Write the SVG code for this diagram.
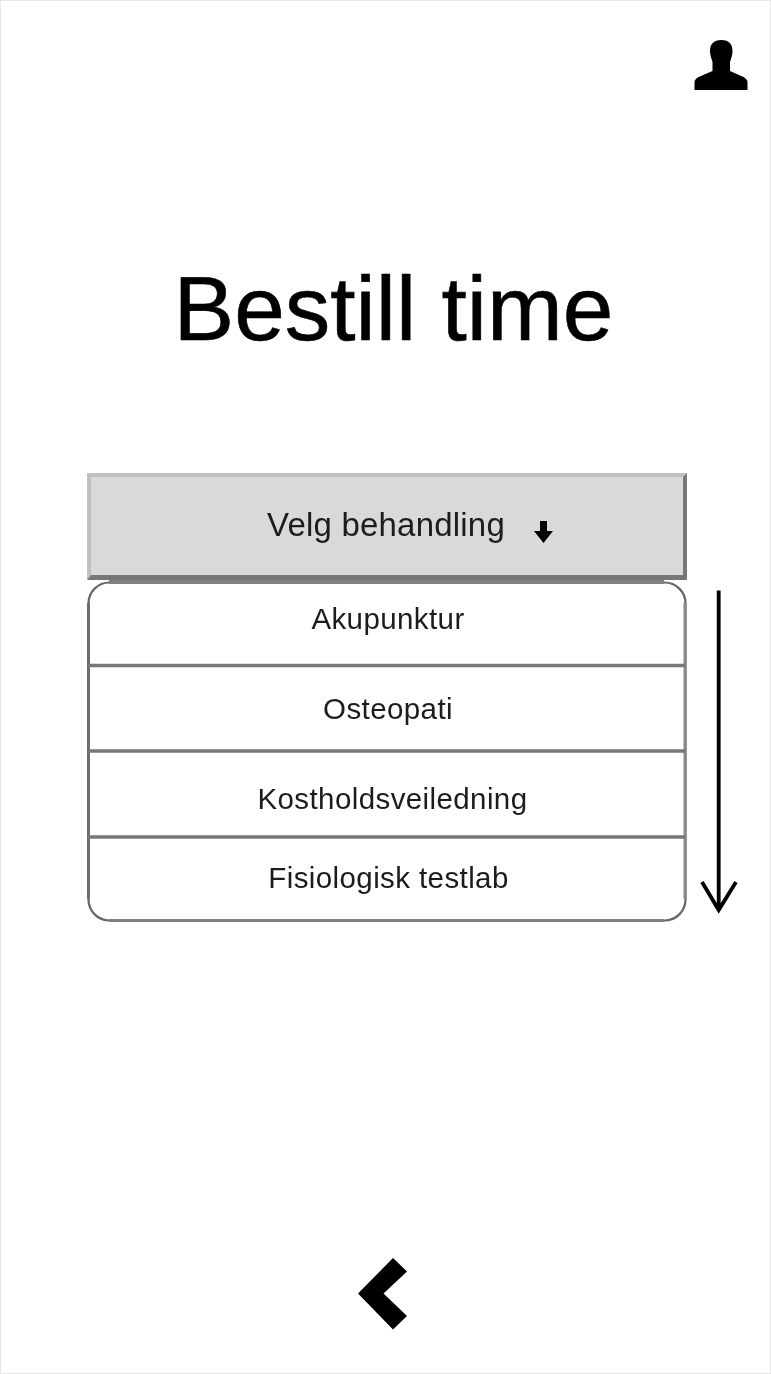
<svg xmlns="http://www.w3.org/2000/svg" width="771" height="1374" viewBox="0 0 771 1374">
<style>
text{font-family:"Liberation Sans",Arial,sans-serif;text-anchor:middle;fill:#1c1c1c}
.item{font-size:29.500px;letter-spacing:.4px}
.div{stroke:#777;stroke-width:3.500;fill:none}
.soft{filter:url(#soft)}
</style>
<defs>
<filter id="soft" filterUnits="userSpaceOnUse" x="0" y="0" width="771" height="1374"><feGaussianBlur stdDeviation="0.700"/></filter>
</defs>
<rect width="771" height="1374" fill="#fff"/>
<rect x="0.500" y="0.500" width="770" height="1373" fill="none" stroke="#e8e8e8"/>
<g id="profile-icon" class="soft"><path d="M721.500 40c-8 0-11.500 4-11.500 11c0 4 1.500 8 2.500 11v9l-14 6c-2 1-4 3-4 5v8h53v-8c0-2-2-4-4-5l-13.500-6v-9c1-3 2.500-7 2.500-11c0-7-3.500-11-11-11z" fill="#000"/></g>
<g id="title" class="soft"><text x="393.500" y="340" font-size="91" stroke="#000" stroke-width=".6" style="fill:#000">Bestill time</text></g>
<g id="treatment-list" class="soft">
<rect x="88.500" y="582.500" width="597" height="338" rx="21" fill="#fff" stroke="#666" stroke-width="2.200"/>
<path d="M88.500 603V899" fill="none" stroke="#6c6c6c" stroke-width="3"/>
<path d="M685 603V899" fill="none" stroke="#8a8a8a" stroke-width="3"/>
<path d="M109 920.500H664" fill="none" stroke="#808080" stroke-width="3"/>
<path d="M109 582H664" fill="none" stroke="#808080" stroke-width="4"/>
<g id="item-akupunktur"><path class="div" d="M88 665.500H685"/><text class="item" x="388" y="629">Akupunktur</text></g>
<g id="item-osteopati"><path class="div" d="M88 751H685"/><text class="item" x="388" y="719">Osteopati</text></g>
<g id="item-kosthold"><path class="div" d="M88 837H685"/><text class="item" x="392.500" y="809">Kostholdsveiledning</text></g>
<g id="item-fisiologisk"><text class="item" x="388.500" y="888">Fisiologisk testlab</text></g>
</g>
<g id="dropdown-button" class="soft">
<rect x="87" y="473" width="600" height="107" fill="#d9d9d9"/>
<path d="M87 580V473H687l-4 4H91V576z" fill="#c0c0c0"/>
<path d="M687 473V580H87l4-5H683V477z" fill="#777"/>
<text x="386" y="536" font-size="33" letter-spacing=".2">Velg behandling</text>
<path d="M540 521h7v10h6l-9.500 12-9.500-12h6z" fill="#000"/>
</g>
<g id="connectors" class="soft">
<path d="M718.700 590.500V909M702 882L718.700 910L736 882" fill="none" stroke="#000" stroke-width="3.800"/>
</g>
<g id="back-icon" class="soft"><path d="M393 1258L407 1271.500L383.500 1293.500L407 1316L393 1329.500L358 1293.500z" fill="#000"/></g>
</svg>
